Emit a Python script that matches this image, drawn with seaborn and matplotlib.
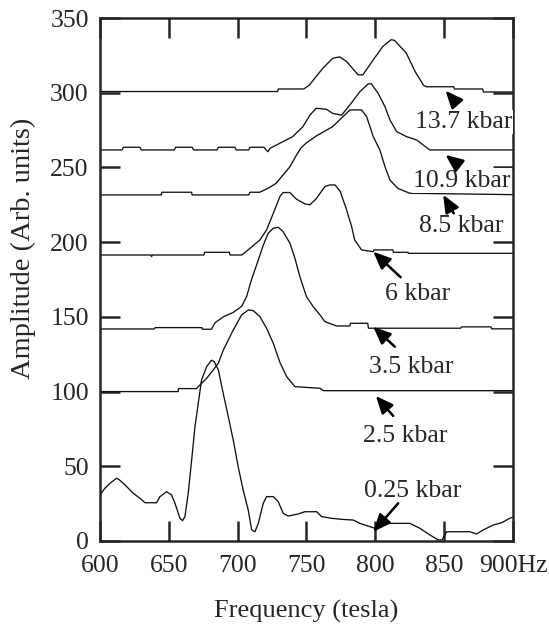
import numpy as np
import pandas as pd
import matplotlib
matplotlib.use("Agg")
import matplotlib.pyplot as plt
import seaborn as sns

sns.set_style("ticks")
plt.rcParams["font.family"] = ["Liberation Serif", "DejaVu Serif"]

# --------------------------------------
# data (frequency in Hz, amplitude in arb. units)
# --------------------------------------
pressures = ["0.25 kbar", "2.5 kbar", "3.5 kbar", "6 kbar", "8.5 kbar", "10.9 kbar", "13.7 kbar"]

freq_025 = [600, 603.6, 607.3, 612.1, 614, 618.2, 624.2, 629, 632.7, 641.1, 643.6, 648.4, 652,
            654.5, 658.1, 660, 661.7, 664.1, 666.6, 669, 671.4, 673.8, 677.5, 681, 683, 686,
            689.5, 693.2, 696.8, 700.4, 704, 707.7, 710.2, 712.6, 715, 718.6, 721, 725.9, 729.5,
            733.1, 736.7, 744, 748.9, 757.4, 761, 768.2, 775.5, 784, 788.8, 796, 799.7, 803.3,
            808.2, 825.1, 832.4, 839.7, 845.7, 848.5, 851.8, 868.7, 873.6, 878.4, 885.7, 891.7,
            897.7, 900]
amp_025 = [30.8, 35.3, 38.6, 42, 41, 37.5, 31.9, 28.6, 25.6, 25.6, 29.7, 33, 30.8,
           25.2, 15.2, 13.6, 16.3, 31.9, 54.2, 76.5, 92.2, 107.8, 116.7, 121, 120, 114.5,
           98.9, 83.2, 67.6, 49.7, 34.1, 20.7, 7.4, 6.2, 11.8, 25.2, 29.7, 29.7, 26.3,
           18.5, 16.7, 18.1, 19.6, 19.6, 16.3, 15.2, 14.5, 14, 11.8, 9.6, 8.5, 9.6,
           11.8, 11.8, 8.5, 4, 0.7, 0.7, 6.2, 6.2, 4.7, 7.4, 10.7, 12.2,
           15.2, 16]

freq_25 = [600, 656.8, 657, 670, 672.6, 677.5, 682.3, 686, 689.6, 696.8, 702.9, 707.7, 711.3,
           716.2, 721, 725.9, 730.7, 735.6, 741.6, 759.8, 762.2, 900]
amp_25 = [100, 100, 102, 102, 104.4, 108.9, 114.5, 119, 127.8, 141.2, 151.3, 154.6, 154.2,
          150.1, 142.4, 132.3, 119.5, 110, 103.3, 102.2, 100.6, 100.6]

freq_35 = [600, 639.5, 640, 674, 674.5, 681, 683.5, 689.6, 696.8, 702.9, 706.5, 710, 715,
           718.6, 722.2, 725.9, 729.5, 733, 738, 741.6, 745.2, 750, 754.9, 759.8, 763.4,
           771.8, 781.5, 782, 794.5, 795, 862, 862.5, 884, 884.5, 900]
amp_35 = [141.9, 141.9, 142.8, 142.8, 141.7, 141.7, 146, 150, 153, 157, 163.5, 174.7, 188,
          198, 206, 209.3, 210, 207, 199.3, 189.2, 176.9, 163.5, 156.8, 151.3, 146.8,
          143.9, 143.9, 145.7, 145.7, 142.4, 142.4, 143.3, 143.3, 142, 142]

freq_6 = [600, 637, 637.5, 638, 675.5, 676, 694, 694.5, 703, 709, 716.2, 721, 725.9, 730.7,
          733, 738, 742.8, 748.9, 752.5, 757, 763.4, 767, 770.7, 774.5, 779, 782.8, 785, 790,
          798.5, 799, 812.8, 813.2, 823.7, 824, 900]
amp_6 = [191.4, 191.4, 190.3, 191.4, 191.4, 193.2, 193.2, 191.4, 191.4, 195.9, 201.5, 208.2,
         219.3, 230.5, 233.2, 233.2, 228.7, 225.6, 225, 229, 237.2, 238.3, 238.3, 234, 222,
         210.4, 201.5, 194.8, 193.6, 194.8, 194.8, 193.2, 193.2, 192.5, 192.5]

freq_85 = [600, 644.5, 645, 666.5, 667, 708, 709, 716, 722, 728, 733, 738, 742.8, 746, 750,
           757, 769, 779, 781.5, 790, 793.7, 798.5, 803.3, 807, 810.6, 816.4, 825, 900]
amp_85 = [231.6, 231.6, 233.4, 233.4, 231.6, 231.6, 233.4, 233.4, 236, 239.4, 245, 250.5,
          258.4, 263, 266.5, 271, 277.3, 286.2, 288.5, 288.5, 284, 270.6, 261.7, 250.5,
          241.6, 236, 232.7, 231.8]

freq_109 = [600, 616, 617, 629, 630, 654, 655, 667, 668, 685, 686, 698, 699, 708, 709, 719,
            722, 723.5, 730.7, 740, 747.4, 752.5, 757, 764.5, 769, 775.5, 781.5, 788.8, 794.8,
            797, 802, 807, 810.6, 815.5, 822.7, 830, 837, 839.5, 900]
amp_109 = [261.7, 261.7, 263.5, 263.5, 261.7, 261.7, 263.5, 263.5, 261.7, 261.7, 263.5, 263.5,
           261.7, 261.7, 263.5, 263.5, 260.5, 262.8, 266.2, 270.6, 277.3, 285, 289.6, 288.9,
           286.2, 285, 291.8, 300.7, 305.9, 306, 299.7, 290.7, 281.8, 274, 270.6, 268.4, 263.5,
           261.7, 261.7]

freq_137 = [600, 729, 729.5, 748, 752, 755, 762, 769, 774, 779, 787.5, 791, 798.5, 805.5,
            811.5, 814, 822.5, 829, 835, 837, 857, 857.5, 878, 878.5, 900]
amp_137 = [300.8, 300.8, 302.5, 302.5, 305, 308.5, 316.5, 323, 324, 321, 312, 312, 322, 331,
           335.5, 335, 326.5, 314, 305, 304, 304, 302.5, 302.5, 300.5, 300.5]

all_freq = [freq_025, freq_25, freq_35, freq_6, freq_85, freq_109, freq_137]
all_amp = [amp_025, amp_25, amp_35, amp_6, amp_85, amp_109, amp_137]

x_ticks = [600, 650, 700, 750, 800, 850, 900]
x_ticklabels = ["600", "650", "700", "750", "800", "850", "900Hz"]
y_ticks = [0, 50, 100, 150, 200, 250, 300, 350]

# label text anchor (x, baseline y) and arrow (tail -> tip), data coords
label_pos = [(827, 29.7), (821.5, 66.5), (826.3, 112.7), (830.6, 161.1),
             (862.4, 207), (862.9, 237.2), (864, 276.4)]
arrow_tail = [(816.6, 25.2), (813, 83.7), (814.2, 130), (818.4, 176.5),
              (857, 219.3), (858.3, 253.2), (858, 294)]
arrow_tip = [(798.5, 6.2), (800.4, 97.1), (798.5, 143.4), (798.5, 193.6),
             (849.3, 231.6), (851, 258.4), (851, 301.4)]

# long-form table for seaborn
frames = []
for p, f, a in zip(pressures, all_freq, all_amp):
    frames.append(pd.DataFrame({"freq": f, "amp": a, "pressure": p}))
df = pd.concat(frames, ignore_index=True)

# --------------------------------------
# plot
# --------------------------------------
fig = plt.figure(figsize=(5.49, 6.32), dpi=100)
ax = fig.add_axes([0.1821, 0.144, 0.7523, 0.8275])

sns.lineplot(data=df, x="freq", y="amp", hue="pressure",
             palette={p: "#111111" for p in pressures},
             sort=False, estimator=None, legend=False, linewidth=0.95, ax=ax)

for txt, (tx, ty), tail, tip in zip(pressures, label_pos, arrow_tail, arrow_tip):
    ax.annotate("", xy=tip, xytext=tail,
                arrowprops=dict(arrowstyle="-|>,head_length=1.05,head_width=0.45",
                                color="black", lw=1.8, shrinkA=0, shrinkB=0),
                zorder=4)
    ax.text(tx, ty, txt, ha="center", va="baseline", fontsize=18.5, zorder=3,
            bbox=dict(fc="white", ec="none", pad=1))

ax.set_xlim(600, 900)
ax.set_ylim(0, 350)
ax.set_xticks(x_ticks)
ax.set_xticklabels(x_ticklabels)
ax.set_yticks(y_ticks)

ax.tick_params(direction="in", length=14.4, width=1.8, top=True, right=True,
               labelsize=18.5)
ax.tick_params(axis="x", pad=10)
ax.tick_params(axis="y", pad=8)
for s in ax.spines.values():
    s.set_linewidth(1.8)
    s.set_visible(True)

ax.set_xlabel("Frequency (tesla)", fontsize=19)
ax.set_ylabel("Amplitude (Arb. units)", fontsize=20.5)
ax.xaxis.set_label_coords(0.5, -0.112)
ax.yaxis.set_label_coords(-0.155, 0.56)

fig.savefig("out.png", dpi=100)
